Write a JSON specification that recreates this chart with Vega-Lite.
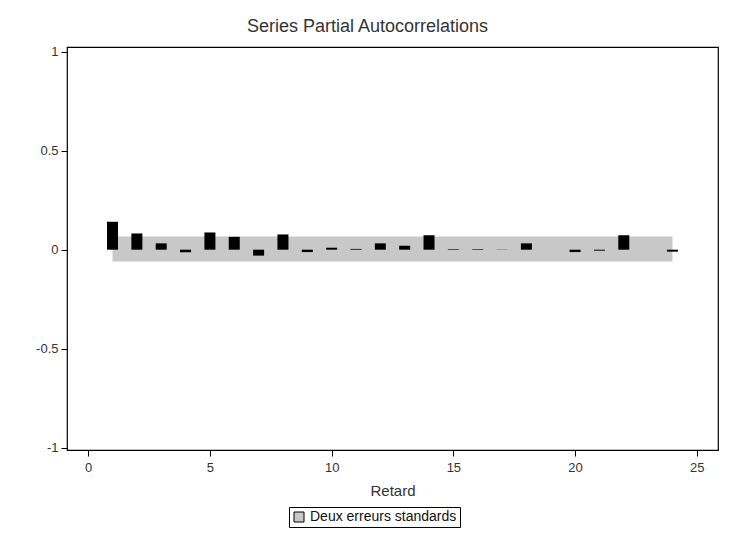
{
  "$schema": "https://vega.github.io/schema/vega-lite/v6.json",
  "autosize": "none",
  "width": 651,
  "height": 403,
  "padding": {"left": 67, "top": 47, "right": 11, "bottom": 86},
  "background": "#ffffff",
  "config": {
    "font": "Liberation Sans",
    "view": {"stroke": "#000000", "strokeWidth": 1.2},
    "axis": {"labelFont": "Liberation Sans", "titleFont": "Liberation Sans", "labelColor": "#333333", "titleColor": "#333333", "tickColor": "#000000", "grid": false, "domain": false}
  },
  "title": {"text": "Series Partial Autocorrelations", "font": "Liberation Sans", "fontSize": 18, "fontWeight": "normal", "color": "#333333", "anchor": "middle", "dx": -25, "offset": 10},
  "datasets": {
    "pacf": [
      {"lag": 1, "pacf": 0.141}, {"lag": 2, "pacf": 0.082}, {"lag": 3, "pacf": 0.032},
      {"lag": 4, "pacf": -0.013}, {"lag": 5, "pacf": 0.087}, {"lag": 6, "pacf": 0.065},
      {"lag": 7, "pacf": -0.030}, {"lag": 8, "pacf": 0.077}, {"lag": 9, "pacf": -0.012},
      {"lag": 10, "pacf": 0.010}, {"lag": 11, "pacf": 0.004}, {"lag": 12, "pacf": 0.032},
      {"lag": 13, "pacf": 0.020}, {"lag": 14, "pacf": 0.073}, {"lag": 15, "pacf": 0.003},
      {"lag": 16, "pacf": 0.003}, {"lag": 17, "pacf": 0.001}, {"lag": 18, "pacf": 0.032},
      {"lag": 19, "pacf": 0.0}, {"lag": 20, "pacf": -0.012}, {"lag": 21, "pacf": -0.005},
      {"lag": 22, "pacf": 0.073}, {"lag": 23, "pacf": 0.0}, {"lag": 24, "pacf": -0.010}
    ],
    "band": [
      {"start": 1, "end": 24, "lo": -0.060, "hi": 0.066, "label": "Deux erreurs standards"}
    ]
  },
  "layer": [
    {
      "data": {"name": "band"},
      "mark": {"type": "rect"},
      "encoding": {
        "x": {"field": "start", "type": "quantitative", "scale": {"domain": [-0.87, 25.87], "nice": false, "zero": false, "padding": 0},
          "axis": {"values": [0, 5, 10, 15, 20, 25], "title": "Retard", "titleFontSize": 15, "titleFontWeight": "normal", "labelFontSize": 13, "tickSize": 6, "labelPadding": 5, "titlePadding": 9}},
        "x2": {"field": "end"},
        "y": {"field": "lo", "type": "quantitative", "scale": {"domain": [-1.012, 1.024], "nice": false, "zero": false, "padding": 0},
          "axis": {"values": [-1, -0.5, 0, 0.5, 1], "title": null, "labelFontSize": 13, "tickSize": 6, "labelPadding": 3, "labelExpr": "'' + datum.value"}},
        "y2": {"field": "hi"},
        "color": {"field": "label", "type": "nominal", "title": null,
          "scale": {"range": ["#c8c8c8"]},
          "legend": {"orient": "none", "legendX": 222, "legendY": 460, "symbolType": "square", "symbolSize": 100, "symbolStrokeColor": "#000000", "symbolStrokeWidth": 1, "labelFontSize": 14, "labelColor": "#111111", "labelFont": "Liberation Sans", "strokeColor": "#000000", "padding": 3, "fillColor": "#ffffff"}}
      }
    },
    {
      "mark": {"type": "rule", "color": "#000000", "strokeWidth": 1},
      "encoding": {"y": {"datum": 0, "type": "quantitative"}}
    },
    {
      "data": {"name": "pacf"},
      "mark": {"type": "bar", "color": "#000000", "width": 11},
      "encoding": {
        "x": {"field": "lag", "type": "quantitative"},
        "y": {"field": "pacf", "type": "quantitative"},
        "y2": {"datum": 0}
      }
    }
  ]
}
